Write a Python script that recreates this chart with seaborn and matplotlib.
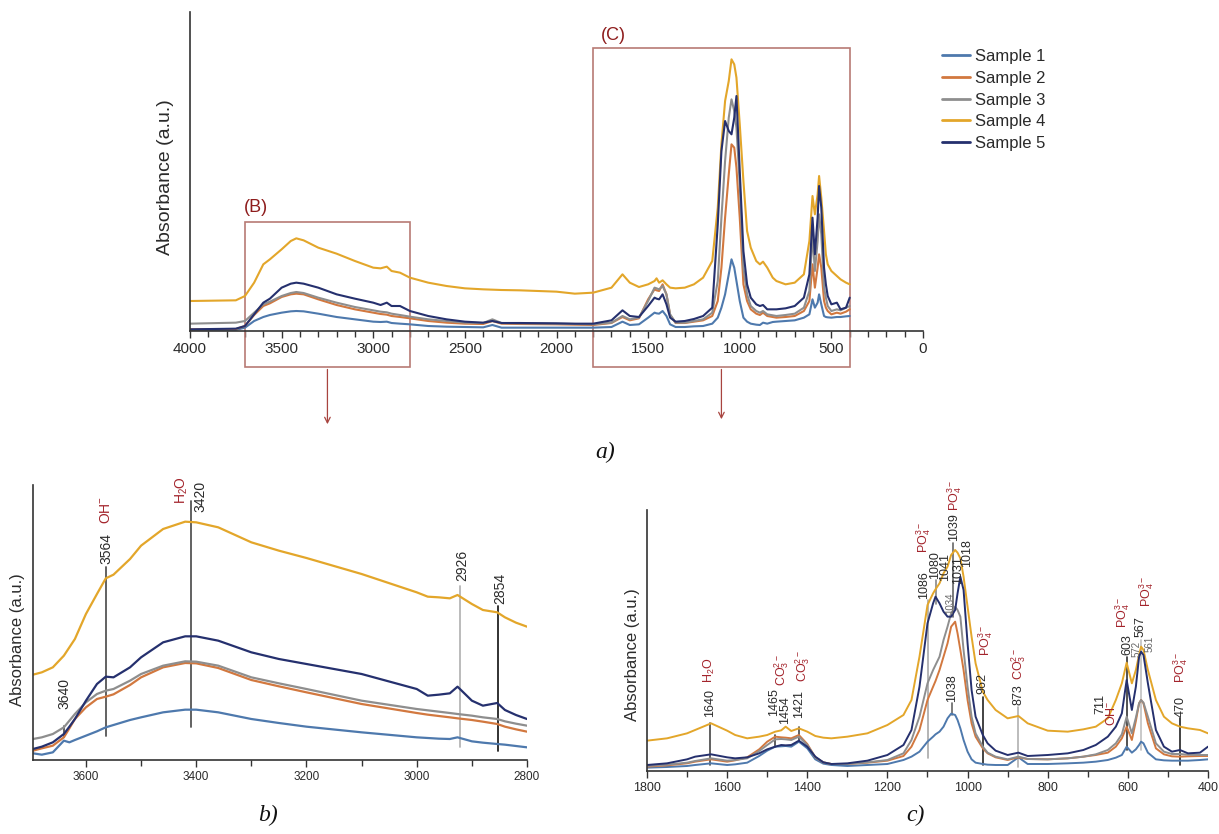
import numpy as np
import pandas as pd
import matplotlib
matplotlib.use('Agg')
import matplotlib.pyplot as plt
import matplotlib.patches as mpatches
from matplotlib.ticker import MultipleLocator, FormatStrFormatter
import seaborn as sns

SAMPLES = ['Sample 1', 'Sample 2', 'Sample 3', 'Sample 4', 'Sample 5']
COLORS = ['#4E79AD', '#D2783F', '#8E8E8E', '#E3A62A', '#25306E']

# ---------------- panel a (full spectrum) ----------------
A_WN = [4000, 3750, 3700, 3650, 3600, 3564, 3500, 3450, 3420, 3380,
        3300, 3200, 3100, 3000, 2960, 2926, 2900, 2854, 2800, 2700,
        2600, 2500, 2400, 2350, 2300, 2200, 2000, 1900, 1800, 1700,
        1640, 1600, 1550, 1500, 1465, 1454, 1440, 1421, 1400, 1380,
        1350, 1300, 1250, 1200, 1150, 1120, 1100, 1080, 1060, 1045,
        1030, 1018, 1000, 980, 960, 940, 910, 890, 873, 850,
        820, 800, 750, 700, 650, 620, 603, 590, 575, 567,
        555, 540, 530, 520, 500, 470, 450, 420, 400]
A_S1 = [2, 3, 10, 30, 42, 48, 55, 59, 60, 59,
        52, 42, 35, 28, 27, 28, 24, 22, 20, 15,
        13, 12, 11, 18, 10, 10, 10, 10, 10, 12,
        28, 18, 20, 40, 55, 53, 52, 60, 45, 20,
        12, 12, 14, 15, 22, 40, 70, 110, 170, 215,
        190, 150, 90, 40, 28, 22, 19, 18, 25, 22,
        27, 28, 30, 32, 40, 50, 95, 70, 85, 110,
        80, 45, 42, 41, 40, 42, 42, 44, 45]
A_S2 = [5, 6, 15, 48, 75, 83, 102, 110, 112, 110,
        95, 78, 65, 55, 51, 49, 45, 42, 38, 30,
        25, 22, 21, 30, 22, 21, 20, 19, 18, 24,
        42, 32, 38, 95, 125, 122, 120, 140, 110, 48,
        24, 24, 28, 32, 45, 90, 190, 340, 470, 560,
        550, 490, 340, 140, 90, 65, 52, 48, 55, 45,
        42, 40, 42, 45, 60, 90, 200, 130, 190, 230,
        190, 90, 70, 60, 50, 55, 52, 58, 65]
A_S3 = [22, 25, 30, 55, 80, 88, 105, 114, 117, 114,
        100, 85, 72, 62, 58, 56, 52, 48, 43, 35,
        30, 25, 24, 35, 24, 23, 22, 21, 20, 25,
        45, 35, 40, 90, 130, 128, 125, 135, 110, 50,
        25, 25, 30, 35, 55, 150, 340, 510, 640, 695,
        660, 610, 440, 190, 110, 75, 60, 55, 60, 50,
        47, 45, 48, 52, 70, 120, 290, 180, 270, 350,
        290, 130, 100, 75, 60, 65, 62, 70, 75]
A_S4 = [90, 92, 105, 145, 200, 215, 245, 270, 278, 272,
        250, 232, 210, 190, 188, 193, 180, 175, 160, 145,
        135, 128, 125, 124, 123, 122, 118, 112, 115, 130,
        170, 145, 132, 140, 150, 158, 145, 152, 140, 130,
        128, 130, 140, 160, 210, 370, 560, 690, 750, 815,
        800, 760, 620, 450, 300, 250, 210, 200, 208, 190,
        160, 150, 140, 145, 170, 270, 405, 350, 410, 465,
        400, 300, 230, 200, 180, 165, 155, 145, 140]
A_S5 = [5, 7, 15, 50, 85, 97, 130, 142, 145, 142,
        130, 110, 97, 85, 78, 85, 75, 75, 60, 45,
        35, 28, 25, 30, 24, 24, 23, 22, 22, 32,
        62, 45, 42, 75, 100, 97, 95, 110, 80, 40,
        28, 30, 36, 45, 70, 320, 540, 630, 600, 590,
        640, 705, 480, 240, 140, 100, 80, 75, 78, 65,
        65, 65, 68, 75, 100, 170, 340, 230, 340, 435,
        370, 190, 140, 105, 80, 85, 65, 70, 100]

# ---------------- panel b (3700-2800) ----------------
B_WN = [3696, 3680, 3660, 3640, 3630, 3620, 3600, 3580, 3564, 3550,
        3520, 3500, 3460, 3420, 3400, 3360, 3300, 3250, 3200, 3100,
        3000, 2980, 2960, 2940, 2926, 2900, 2880, 2854, 2840, 2820, 2800]
B_S1 = [20, 16, 23, 58, 53, 60, 73, 86, 98, 105,
        120, 128, 143, 151, 151, 143, 123, 111, 100, 83,
        68, 66, 64, 63, 68, 56, 52, 48, 46, 42, 38]
B_S2 = [28, 35, 43, 68, 95, 123, 158, 183, 190, 197,
        225, 248, 278, 291, 290, 276, 240, 221, 203, 168,
        141, 136, 132, 128, 125, 120, 115, 108, 100, 92, 85]
B_S3 = [63, 68, 78, 98, 118, 138, 173, 198, 208, 213,
        238, 258, 283, 296, 295, 283, 248, 230, 213, 178,
        153, 149, 145, 141, 138, 133, 128, 123, 116, 109, 103]
B_S4 = [256, 263, 278, 313, 338, 363, 438, 498, 545, 556,
        603, 643, 693, 715, 713, 698, 653, 628, 606, 558,
        503, 490, 488, 485, 495, 468, 450, 443, 428, 412, 400]
B_S5 = [33, 40, 53, 78, 100, 123, 178, 228, 250, 248,
        278, 308, 353, 371, 371, 358, 323, 303, 288, 258,
        213, 193, 196, 200, 220, 178, 163, 171, 150, 135, 123]

# ---------------- panel c (1800-400) ----------------
C_WN = [1800, 1750, 1700, 1680, 1640, 1600, 1580, 1550, 1520, 1500,
        1480, 1465, 1454, 1440, 1421, 1400, 1380, 1360, 1340, 1300,
        1250, 1200, 1160, 1140, 1120, 1100, 1086, 1080, 1070, 1060,
        1050, 1041, 1031, 1025, 1018, 1010, 1000, 990, 980, 962,
        950, 930, 900, 873, 850, 800, 750, 711, 680, 650,
        630, 615, 603, 590, 580, 572, 567, 561, 550, 530,
        510, 490, 470, 450, 420, 400]
C_S1 = [10, 12, 15, 18, 23, 18, 20, 25, 45, 61,
        73, 74, 75, 73, 88, 68, 35, 22, 18, 15,
        18, 21, 33, 43, 58, 88, 103, 110, 118, 133,
        158, 172, 168, 153, 128, 93, 58, 35, 25, 21,
        19, 18, 18, 41, 21, 21, 23, 25, 28, 33,
        40, 48, 73, 55, 65, 78, 88, 83, 55, 35,
        32, 31, 31, 31, 33, 35]
C_S2 = [13, 17, 23, 28, 35, 28, 32, 41, 65, 88,
        103, 101, 100, 98, 108, 81, 41, 26, 21, 21,
        25, 31, 45, 73, 123, 213, 253, 270, 303, 343,
        383, 433, 448, 413, 363, 303, 213, 143, 103, 68,
        53, 41, 33, 41, 36, 35, 38, 43, 48, 55,
        73, 98, 133, 93, 150, 203, 213, 203, 143, 68,
        50, 44, 43, 44, 45, 45]
C_S3 = [15, 19, 25, 30, 38, 31, 33, 38, 60, 78,
        95, 96, 95, 93, 103, 78, 41, 26, 21, 21,
        26, 33, 53, 93, 163, 263, 303, 318, 343, 393,
        433, 473, 493, 483, 463, 363, 253, 163, 113, 73,
        55, 43, 35, 43, 36, 35, 38, 43, 50, 63,
        83, 110, 163, 113, 160, 203, 213, 205, 163, 83,
        58, 51, 51, 49, 48, 48]
C_S4 = [91, 98, 113, 123, 143, 121, 108, 98, 103, 108,
        118, 122, 133, 120, 128, 118, 105, 100, 98, 103,
        113, 138, 168, 213, 343, 498, 533, 545, 563, 593,
        613, 648, 663, 655, 638, 583, 493, 403, 323, 238,
        213, 183, 158, 165, 143, 121, 118, 125, 133, 158,
        213, 263, 325, 263, 303, 348, 373, 363, 303, 213,
        163, 143, 133, 128, 123, 113]
C_S5 = [18, 23, 35, 43, 50, 41, 38, 41, 53, 65,
        73, 78, 77, 78, 91, 73, 43, 26, 21, 23,
        31, 48, 78, 123, 253, 443, 503, 523, 503, 478,
        463, 463, 483, 533, 583, 543, 383, 243, 163, 108,
        83, 61, 48, 55, 45, 48, 53, 63, 78, 103,
        133, 173, 273, 183, 253, 343, 358, 348, 263, 123,
        73, 58, 63, 53, 55, 73]

# ---------------- peak annotations ----------------
B_MARKS = [  # wavenumber, line from, line to, line colour
    (3639, 68, 103, '#555555'), (3563, 73, 578, '#555555'),
    (3409, 98, 778, '#555555'), (2922, 38, 523, '#b5b5b5'),
    (2852, 28, 463, '#222222')]
B_TEXT = [  # wavenumber, height, text, is_species
    (3639, 153, '3640', False), (3563, 588, '3564', False),
    (3563, 708, r'OH$^{-}$', True), (3393, 743, '3420', False),
    (3427, 768, r'H$_2$O', True), (2917, 538, '2926', False),
    (2849, 468, '2854', False)]
C_MARKS = [
    (1643, 18, 143, '#444444'), (1481, 73, 108, '#444444'),
    (1421, 88, 133, '#444444'), (1098, 38, 513, '#a8a8a8'),
    (1080, 500, 573, '#888888'), (1036, 463, 685, '#666666'),
    (1038, 168, 203, '#666666'), (962, 18, 222, '#222222'),
    (873, 13, 193, '#b0b0b0'), (602, 63, 343, '#333333'),
    (568, 63, 393, '#c0c0c0'), (469, 18, 158, '#222222')]
C_TEXT = [
    (1643, 163, '1640', False), (1643, 263, r'H$_2$O', True),
    (1484, 165, '1465', False), (1455, 140, '1454', False),
    (1464, 255, r'CO$_3^{2-}$', True), (1421, 160, '1421', False),
    (1411, 268, r'CO$_3^{2-}$', True),
    (1108, 515, '1086', False), (1110, 653, r'PO$_4^{3-}$', True),
    (1082, 575, '1080', False), (1056, 570, '1041', False),
    (1044, 470, '1034', False), (1034, 690, '1039', False),
    (1031, 780, r'PO$_4^{3-}$', True), (1024, 560, '1031', False),
    (1001, 613, '1018', False), (1038, 208, '1038', False),
    (962, 230, '962', False), (955, 345, r'PO$_4^{3-}$', True),
    (873, 198, '873', False), (873, 273, r'CO$_3^{2-}$', True),
    (668, 170, '711', False), (640, 135, r'OH$^{-}$', True),
    (602, 348, '603', False), (614, 430, r'PO$_4^{3-}$', True),
    (579, 343, '572', False), (568, 403, '567', False),
    (553, 493, r'PO$_4^{3-}$', True), (545, 358, '561', False),
    (469, 163, '470', False), (469, 263, r'PO$_4^{3-}$', True)]


def long_df(wn, series):
    frames = [pd.DataFrame({'wn': wn, 'abs': vals, 'sample': name})
              for name, vals in zip(SAMPLES, series)]
    return pd.concat(frames, ignore_index=True)


sns.set_theme(style='white')
plt.rcParams['font.family'] = ['Liberation Sans', 'DejaVu Sans']
plt.rcParams['mathtext.fontset'] = 'custom'
plt.rcParams['mathtext.rm'] = 'Liberation Sans'
plt.rcParams['mathtext.it'] = 'Liberation Sans:italic'
plt.rcParams['mathtext.bf'] = 'Liberation Sans:bold'

W, H = 1219, 834
fig = plt.figure(figsize=(W / 100, H / 100), dpi=100)
fig.patch.set_facecolor('white')


def px_axes(left, top, right, bottom):
    return fig.add_axes([left / W, 1 - bottom / H, (right - left) / W, (bottom - top) / H])


RED = '#A3232B'
BOXC = '#B87A74'
TXT = '#2a2a2a'


def style_axes(ax, major, minor, lsize, spcol='#333333'):
    for s in ['top', 'right']:
        ax.spines[s].set_visible(False)
    for s in ['left', 'bottom']:
        ax.spines[s].set_color(spcol)
        ax.spines[s].set_linewidth(1.2)
    ax.set_yticks([])
    ax.xaxis.set_major_locator(MultipleLocator(major))
    ax.xaxis.set_minor_locator(MultipleLocator(minor))
    ax.xaxis.set_major_formatter(FormatStrFormatter('%d'))
    ax.tick_params(axis='x', which='both', bottom=True, direction='out',
                   color=spcol, width=1.0, labelsize=lsize, labelcolor=TXT, pad=3)
    ax.tick_params(axis='x', which='major', length=5)
    ax.tick_params(axis='x', which='minor', length=4)
    ax.set_xlabel('')
    ax.set_ylabel('')


# ----- panel a -----
axa = px_axes(190, 12, 923, 331)
dfa = long_df(A_WN, [A_S1, A_S2, A_S3, A_S4, A_S5])
sns.lineplot(data=dfa, x='wn', y='abs', hue='sample', hue_order=SAMPLES,
             palette=COLORS, linewidth=1.5, errorbar=None, ax=axa)
axa.set_xlim(4000, 0)
axa.set_ylim(0, 957)
style_axes(axa, 500, 100, 11)
sns.move_legend(axa, 'upper left', bbox_to_anchor=(1.0055, 0.93), frameon=False,
                title=None, fontsize=12, handlelength=1.7, handletextpad=0.3,
                labelspacing=0.4)
for ln in axa.get_legend().get_lines():
    ln.set_linewidth(2.0)
for t in axa.get_legend().get_texts():
    t.set_color(TXT)

axa.add_patch(mpatches.Rectangle((2800, -107), 900, 434, fill=False, ec=BOXC,
                                 lw=1.2, clip_on=False))
axa.add_patch(mpatches.Rectangle((400, -107), 1400, 955, fill=False, ec=BOXC,
                                 lw=1.2, clip_on=False))
axa.text(3640, 345, '(B)', color='#8E1C1C', fontsize=13, ha='center', va='bottom')
axa.text(1690, 862, '(C)', color='#8E1C1C', fontsize=13, ha='center', va='bottom')
for xc, yt in [(3250, -288), (1100, -273)]:
    axa.annotate('', xy=(xc, yt), xytext=(xc, -107), annotation_clip=False,
                 arrowprops=dict(arrowstyle='->', color='#A8443F', lw=0.9,
                                 mutation_scale=10))
fig.text(165 / W, 1 - 177 / H, 'Absorbance (a.u.)', rotation=90, ha='center',
         va='center', fontsize=14, color=TXT)

# ----- panel b -----
axb = px_axes(33, 485, 527, 760)
dfb = long_df(B_WN, [B_S1, B_S2, B_S3, B_S4, B_S5])
sns.lineplot(data=dfb, x='wn', y='abs', hue='sample', hue_order=SAMPLES,
             palette=COLORS, linewidth=1.6, errorbar=None, legend=False, ax=axb)
axb.set_xlim(3696, 2800)
axb.set_ylim(0, 825)
style_axes(axb, 200, 100, 8.5)
for w, v0, v1, c in B_MARKS:
    axb.plot([w, w], [v0, v1], color=c, lw=1.3, clip_on=False, zorder=1)
for w, v, s, sp in B_TEXT:
    axb.text(w, v, s, rotation=90, ha='center', va='bottom', fontsize=10,
             color=RED if sp else TXT, clip_on=False)
fig.text(18 / W, 1 - 640 / H, 'Absorbance (a.u.)', rotation=90, ha='center',
         va='center', fontsize=12, color=TXT)

# ----- panel c -----
axc = px_axes(647, 510, 1208, 771)
dfc = long_df(C_WN, [C_S1, C_S2, C_S3, C_S4, C_S5])
sns.lineplot(data=dfc, x='wn', y='abs', hue='sample', hue_order=SAMPLES,
             palette=COLORS, linewidth=1.4, errorbar=None, legend=False, ax=axc)
axc.set_xlim(1800, 400)
axc.set_ylim(0, 783)
style_axes(axc, 200, 100, 9)
for w, v0, v1, c in C_MARKS:
    axc.plot([w, w], [v0, v1], color=c, lw=1.2, clip_on=False, zorder=1)
for w, v, s, sp in C_TEXT:
    small = s in ('1034', '572', '561')
    axc.text(w, v, s, rotation=90, ha='center', va='bottom',
             fontsize=7 if small else 9,
             color=RED if sp else ('#666666' if small else TXT), clip_on=False)
fig.text(633 / W, 1 - 655 / H, 'Absorbance (a.u.)', rotation=90, ha='center',
         va='center', fontsize=12, color=TXT)

# ----- panel letters -----
for x, y, s in [(605, 452, 'a)'), (268, 815, 'b)'), (915, 815, 'c)')]:
    fig.text(x / W, 1 - y / H, s, ha='center', va='center', fontsize=17,
             family='Liberation Serif', style='italic', color='#111111')

fig.savefig('out.png', dpi=100, facecolor='white')
